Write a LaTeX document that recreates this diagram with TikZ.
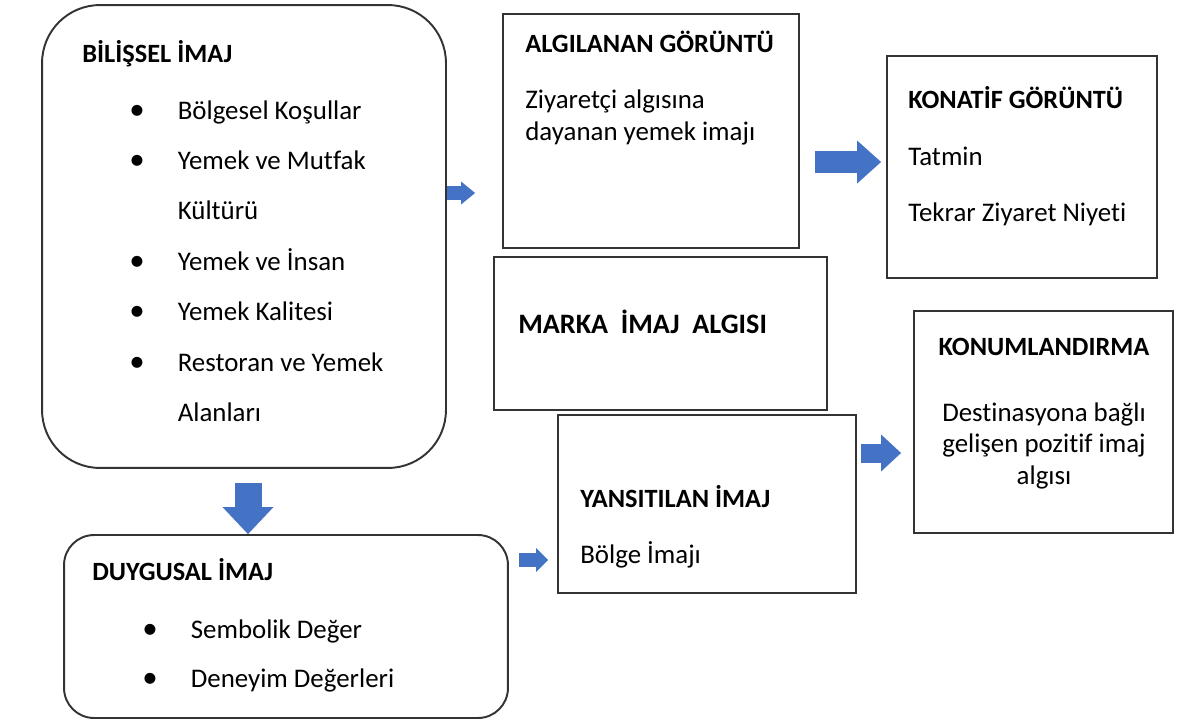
\documentclass[tikz,border=0pt]{standalone}
\usepackage{fontspec}
\setmainfont{Carlito}[Ligatures=NoCommon]
\usetikzlibrary{positioning, chains, arrows.meta}

\definecolor{arrowblue}{HTML}{4472C4}
% fixed width lines, so that chained nodes line up on the left
\newcommand{\lft}[2][6.6cm]{\makebox[#1][l]{#2}}
\newcommand{\bul}{\makebox[0.97cm][l]{\scalebox{1.15}{\textbullet}}}
\newcommand{\nobul}{\makebox[0.97cm][l]{}}

\tikzset{
  box/.style={draw=black!80, line width=1.1pt, fill=white, inner sep=0pt},
  txt/.style={font=\fontsize{15.3}{18}\selectfont, inner sep=0pt,
    text height=11pt, text depth=3.5pt},
  head/.style={txt, font=\fontsize{15}{18}\selectfont\bfseries},
  blk/.style={draw=arrowblue, line cap=butt},
}

\begin{document}
\begin{tikzpicture}[x=0.02cm, y=-0.02cm]
    \useasboundingbox (0,0) rectangle (1182,724);

    % boxes
    \node[box, rounded corners=1.16cm, minimum width=8.08cm, minimum height=9.26cm] (B) at (244,236.5) {};
    \node[box, minimum width=5.92cm, minimum height=4.68cm] (A) at (651,131) {};
    \node[box, minimum width=5.4cm, minimum height=4.44cm] (K) at (1022,167) {};
    \node[box, minimum width=6.66cm, minimum height=3.06cm] (M) at (660.5,333.5) {};
    \node[box, minimum width=5.18cm, minimum height=4.44cm] (P) at (1043.5,422) {};
    \node[box, minimum width=5.96cm, minimum height=3.56cm] (Y) at (707,504) {};
    \node[box, rounded corners=0.6cm, minimum width=8.88cm, minimum height=3.66cm] (D) at (286,626.5) {};

    % BİLİŞSEL İMAJ
    \node[head, anchor=base west] (bh) at (82,62) {BİLİŞSEL İMAJ};
    \begin{scope}[start chain=going below, node distance=13.8pt]
      \node[on chain, txt, anchor=base west] (b1) at (129,119) {\lft{\bul Bölgesel Koşullar}};
      \node[on chain, txt] (b2) {\lft{\bul Yemek ve Mutfak}};
      \node[on chain, txt] (b3) {\lft{\nobul Kültürü}};
      \node[on chain, txt] (b4) {\lft{\bul Yemek ve İnsan}};
      \node[on chain, txt] (b5) {\lft{\bul Yemek Kalitesi}};
      \node[on chain, txt] (b6) {\lft{\bul Restoran ve Yemek}};
      \node[on chain, txt] (b7) {\lft{\nobul Alanları}};
    \end{scope}

    % ALGILANAN GÖRÜNTÜ
    \node[head, anchor=base west] (ah) at (525,52) {ALGILANAN GÖRÜNTÜ};
    \begin{scope}[start chain=going below, node distance=3.7pt]
      \node[on chain, txt, anchor=base west] (a1) at (525,108) {\lft[5cm]{Ziyaretçi algısına}};
      \node[on chain, txt] (a2) {\lft[5cm]{dayanan yemek imajı}};
    \end{scope}

    % KONATİF GÖRÜNTÜ
    \node[head, anchor=base west] (kh) at (908,108) {KONATİF GÖRÜNTÜ};
    \begin{scope}[start chain=going below, node distance=17.4pt]
      \node[on chain, txt, anchor=base west] (k1) at (908,165) {\lft[4.8cm]{Tatmin}};
      \node[on chain, txt] (k2) {\lft[4.8cm]{Tekrar Ziyaret Niyeti}};
    \end{scope}

    % MARKA İMAJ ALGISI
    \node[head, font=\fontsize{16}{19}\selectfont\bfseries, anchor=base west] (mh) at (518,333) {MARKA\ \ İMAJ\ \ ALGISI};

    % KONUMLANDIRMA
    \node[head, anchor=base] (ph) at (1044,355) {KONUMLANDIRMA};
    \begin{scope}[start chain=going below, node distance=3.1pt]
      \node[on chain, txt, anchor=base] (p1) at (1044,421) {Destinasyona bağlı};
      \node[on chain, txt] (p2) {gelişen pozitif imaj};
      \node[on chain, txt] (p3) {algısı};
    \end{scope}

    % YANSITILAN İMAJ
    \node[head, anchor=base west] (yh) at (580,507) {YANSITILAN İMAJ};
    \node[txt, anchor=base west] (y1) at (580,563) {Bölge İmajı};

    % DUYGUSAL İMAJ
    \node[head, anchor=base west] (dh) at (92,580) {DUYGUSAL İMAJ};
    \begin{scope}[start chain=going below, node distance=13.4pt]
      \node[on chain, txt, anchor=base west] (d1) at (142,638) {\lft{\bul Sembolik Değer}};
      \node[on chain, txt] (d2) {\lft{\bul Deneyim Değerleri}};
    \end{scope}

    % arrow levels
    \coordinate (r1) at (0,193);
    \coordinate (r2) at (0,162);
    \coordinate (r3) at (248,0);
    \coordinate (r4) at (0,560);
    \coordinate (r5) at (0,453);

    \draw[blk, line width=0.28cm, -{Triangle[length=0.28cm, width=0.46cm, line width=0pt]},
      shorten >=0.54cm] (B.east |- r1) -- (A.west |- r1);
    \draw[blk, line width=0.44cm, -{Triangle[length=0.48cm, width=0.86cm, line width=0pt]},
      shorten <=0.3cm, shorten >=0.1cm] (A.east |- r2) -- (K.west |- r2);
    \draw[blk, line width=0.54cm, -{Triangle[length=0.54cm, width=1.02cm, line width=0pt]},
      shorten <=0.28cm] (B.south -| r3) -- (D.north -| r3);
    \draw[blk, line width=0.28cm, -{Triangle[length=0.24cm, width=0.48cm, line width=0pt]},
      shorten <=0.2cm, shorten >=0.18cm] (D.east |- r4) -- (Y.west |- r4);
    \draw[blk, line width=0.38cm, -{Triangle[length=0.4cm, width=0.74cm, line width=0pt]},
      shorten <=0.08cm, shorten >=0.24cm] (Y.east |- r5) -- (P.west |- r5);
\end{tikzpicture}
\end{document}
